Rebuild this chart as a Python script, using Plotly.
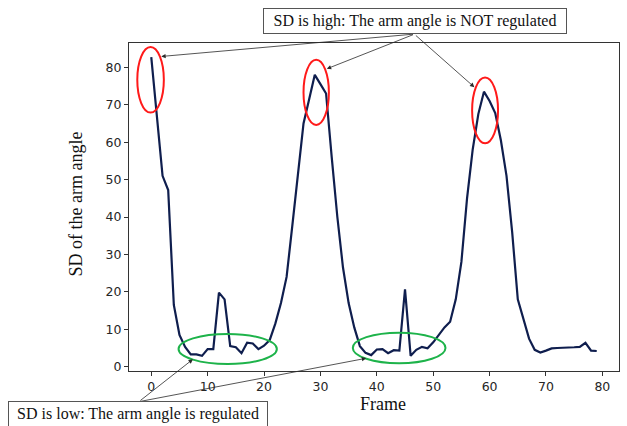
import plotly.graph_objects as go

# Standard deviation of the arm angle for each video frame
frames = list(range(80))
sd_arm_angle = [
    82.7, 67.0, 51.0, 47.2, 16.5, 8.5, 5.3, 3.3, 3.3, 2.9,
    4.7, 4.7, 19.8, 18.0, 5.5, 5.2, 3.6, 6.4, 6.2, 4.7,
    5.6, 7.1, 11.5, 17.0, 24.0, 37.5, 51.0, 65.0, 71.5, 78.0,
    75.5, 73.0, 56.0, 40.0, 26.5, 17.0, 10.5, 5.5, 3.7, 3.1,
    4.6, 4.7, 3.6, 4.4, 4.3, 20.7, 2.9, 4.5, 5.3, 4.9,
    6.5, 8.5, 10.5, 12.0, 18.0, 28.0, 45.0, 58.0, 67.5, 73.5,
    71.0, 67.8, 60.5, 51.0, 36.0, 18.0, 12.5, 7.5, 4.5, 3.8,
    4.3, 4.9, 5.0, 5.0, 5.1, 5.2, 5.3, 6.4, 4.3, 4.2,
]

x_ticks = [0, 10, 20, 30, 40, 50, 60, 70, 80]
y_ticks = [0, 10, 20, 30, 40, 50, 60, 70, 80]

# Highlighted regions (frame range, SD range)
high_regions = [(-2.48, 2.23, 67.9, 85.4), (27.0, 31.5, 64.6, 82.0), (56.9, 61.5, 59.7, 77.3)]
low_regions = [(4.84, 22.27, 0.72, 8.74), (35.74, 52.18, 0.91, 9.09)]

# Callout arrows: head in data units, tail as pixel offset
high_arrows = [(1.77, 82.9, 253.3, -22.4), (31.13, 79.6, 87.7, -34.7), (57.3, 74.7, -60.0, -53.0)]
low_arrows = [(7.38, 1.98, -54.0, 42.4), (38.12, 2.25, -227.4, 43.4)]

high_label = "SD is high: The arm angle is NOT regulated"
low_label = "SD is low: The arm angle is regulated"

serif = "Liberation Serif, Times New Roman, serif"
sans = "DejaVu Sans, sans-serif"

fig = go.Figure()
fig.add_trace(go.Scatter(
    x=frames, y=sd_arm_angle, mode="lines",
    line=dict(color="#0f1e4e", width=2.2),
    showlegend=False, hoverinfo="skip",
))

shapes = []
for x0, x1, y0, y1 in high_regions:
    shapes.append(dict(type="circle", xref="x", yref="y", x0=x0, x1=x1, y0=y0, y1=y1,
                       line=dict(color="#ff1a1a", width=2)))
for x0, x1, y0, y1 in low_regions:
    shapes.append(dict(type="circle", xref="x", yref="y", x0=x0, x1=x1, y0=y0, y1=y1,
                       line=dict(color="#1db34a", width=2)))

annotations = []
for hx, hy, ax, ay in high_arrows + low_arrows:
    annotations.append(dict(
        x=hx, y=hy, xref="x", yref="y", text="", showarrow=True,
        ax=ax, ay=ay, arrowhead=2, arrowsize=1.1, arrowwidth=0.8,
        arrowcolor="#2a2a2a", standoff=0, startstandoff=0,
    ))

annotations.append(dict(
    x=0.5834, y=1.066, xref="paper", yref="paper", text=high_label, showarrow=False,
    font=dict(family=serif, size=16, color="#111111"),
    bordercolor="#555555", borderwidth=1, borderpad=1, bgcolor="white",
    width=300, height=22, xanchor="center", yanchor="middle",
))
annotations.append(dict(
    x=0.0178, y=-0.131, xref="paper", yref="paper", text=low_label, showarrow=False,
    font=dict(family=serif, size=16, color="#111111"),
    bordercolor="#555555", borderwidth=1, borderpad=1, bgcolor="white",
    width=256, height=22, xanchor="center", yanchor="middle",
))
annotations.append(dict(
    x=0.518, y=-0.0992, xref="paper", yref="paper", text="Frame", showarrow=False,
    font=dict(family=serif, size=18, color="#111111"), borderpad=0,
    xanchor="center", yanchor="middle",
))
annotations.append(dict(
    x=-0.1088, y=0.5096, xref="paper", yref="paper", text="SD of the arm angle",
    showarrow=False, textangle=-90,
    font=dict(family=serif, size=18, color="#111111"),
    xanchor="center", yanchor="middle",
))

axis_common = dict(
    showgrid=False, zeroline=False, showline=True, mirror=True,
    linecolor="#333333", linewidth=1.2,
    ticks="outside", ticklen=4, tickwidth=1, tickcolor="#333333",
    tickfont=dict(family=sans, size=12.5, color="#262626"),
)

fig.update_layout(
    width=627, height=426,
    margin=dict(l=129, r=8, t=43, b=55),
    paper_bgcolor="white", plot_bgcolor="white",
    xaxis=dict(range=[-3.95, 82.95], tickvals=x_ticks, **axis_common),
    yaxis=dict(range=[-1.15, 86.5], tickvals=y_ticks, **axis_common),
    shapes=shapes, annotations=annotations,
)

fig.write_html("out.html")
